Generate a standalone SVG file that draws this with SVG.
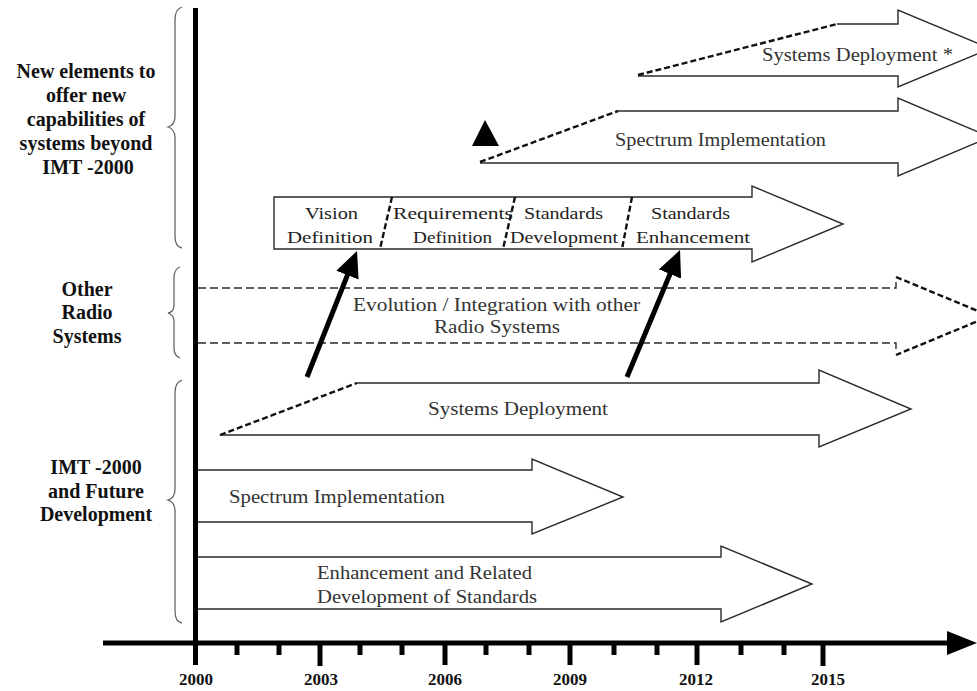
<svg xmlns="http://www.w3.org/2000/svg" width="977" height="691" viewBox="0 0 977 691">
<style>
.lab{font-family:"Liberation Serif","Times New Roman",serif;font-weight:bold;font-size:20px;fill:#111;text-anchor:middle}
.yr{font-family:"Liberation Serif","Times New Roman",serif;font-weight:bold;font-size:17px;fill:#111;text-anchor:middle}
.t{font-family:"Liberation Serif","Times New Roman",serif;font-size:19px;fill:#333}
.ph{font-family:"Liberation Serif","Times New Roman",serif;font-size:16px;fill:#222}
.out{fill:none;stroke:#2a2a2a;stroke-width:1.4}
.sl{fill:none;stroke:#111;stroke-width:2.4;stroke-dasharray:6 3}
.dsh{fill:none;stroke:#2a2a2a;stroke-width:1.4;stroke-dasharray:8 4}
.dshh{fill:none;stroke:#111;stroke-width:2.4;stroke-dasharray:6 3}
.br{fill:none;stroke:#666;stroke-width:1.3}
.tk{stroke:#000;stroke-width:5}
.up{stroke:#000;stroke-width:5;fill:none}
</style>
<defs>
<marker id="ah" markerUnits="userSpaceOnUse" viewBox="0 0 26 24" refX="14" refY="12" markerWidth="26" markerHeight="24" orient="auto">
<path d="M0,0 L26,12 L0,24 Z" fill="#000"/>
</marker>
</defs>
<rect width="977" height="691" fill="#fff"/>

<g id="axes">
<line x1="195.5" y1="8" x2="195.5" y2="665" stroke="#000" stroke-width="5"/>
<line x1="103" y1="643" x2="952" y2="643" stroke="#000" stroke-width="5"/>
<polygon points="947,631 977,643 947,655" fill="#000"/>
<line class="tk" x1="237" y1="645" x2="237" y2="655"/>
<line class="tk" x1="279" y1="645" x2="279" y2="655"/>
<line class="tk" x1="320" y1="645" x2="320" y2="666"/>
<line class="tk" x1="360" y1="645" x2="360" y2="655"/>
<line class="tk" x1="402" y1="645" x2="402" y2="655"/>
<line class="tk" x1="445" y1="645" x2="445" y2="665"/>
<line class="tk" x1="486" y1="645" x2="486" y2="655"/>
<line class="tk" x1="529" y1="645" x2="529" y2="655"/>
<line class="tk" x1="570" y1="645" x2="570" y2="665"/>
<line class="tk" x1="614" y1="645" x2="614" y2="655"/>
<line class="tk" x1="657" y1="645" x2="657" y2="655"/>
<line class="tk" x1="697" y1="645" x2="697" y2="665"/>
<line class="tk" x1="741" y1="645" x2="741" y2="655"/>
<line class="tk" x1="784" y1="645" x2="784" y2="655"/>
<line class="tk" x1="823" y1="645" x2="823" y2="666"/>
<text class="yr" x="196" y="685">2000</text>
<text class="yr" x="321" y="685">2003</text>
<text class="yr" x="445" y="685">2006</text>
<text class="yr" x="570" y="685">2009</text>
<text class="yr" x="696" y="685">2012</text>
<text class="yr" x="828" y="685">2015</text>
</g>

<g id="group-new">
<path class="br" d="M182,7 Q175,9 175,20 L175,116 Q175,125 168,127 Q175,129 175,138 L175,236 Q175,247 182,248"/>
<text class="lab" x="86" y="78">New elements to</text>
<text class="lab" x="86" y="102">offer new</text>
<text class="lab" x="86" y="126">capabilities of</text>
<text class="lab" x="86" y="150">systems beyond</text>
<text class="lab" x="88" y="174">IMT -2000</text>
</g>

<g id="group-other">
<path class="br" d="M180,267 Q174,269 174,278 L174,305 Q174,312 168,313 Q174,315 174,321 L174,348 Q174,356 180,358"/>
<text class="lab" x="87" y="296">Other</text>
<text class="lab" x="87" y="319">Radio</text>
<text class="lab" x="87" y="343">Systems</text>
</g>

<g id="group-imt">
<path class="br" d="M182,380 Q175,382 175,393 L175,489 Q175,498 168,500 Q175,502 175,511 L175,611 Q175,622 182,623"/>
<text class="lab" x="96" y="474">IMT -2000</text>
<text class="lab" x="96" y="498">and Future</text>
<text class="lab" x="96" y="521">Development</text>
</g>

<g id="top-systems-deployment">
<path class="out" d="M837,24 H898 V10 L990,48.5 L898,87 V76 H638"/>
<path class="sl" d="M638,75 L837,24"/>
<text class="t" x="762" y="61" textLength="191" lengthAdjust="spacingAndGlyphs">Systems Deployment *</text>
</g>

<g id="top-spectrum">
<path class="out" d="M618,111 H898 V98 L990,137 L898,176 V163 H480"/>
<path class="sl" d="M480,162 L618,111"/>
<polygon points="485,120 472,146 499,146" fill="#000"/>
<text class="t" x="615" y="146" textLength="211" lengthAdjust="spacingAndGlyphs">Spectrum Implementation</text>
</g>

<g id="phases">
<path class="out" fill="#fff" d="M274,197 H752 V186 L843,224 L752,262 V249 H274 Z"/>
<path class="sl" stroke-width="2" d="M392,197 L380,249"/>
<path class="sl" stroke-width="2" d="M515,197 L503,249"/>
<path class="sl" stroke-width="2" d="M632,197 L622,249"/>
<text class="ph" x="305" y="219" textLength="53" lengthAdjust="spacingAndGlyphs">Vision</text>
<text class="ph" x="287" y="243" textLength="86" lengthAdjust="spacingAndGlyphs">Definition</text>
<text class="ph" x="393" y="219" textLength="120" lengthAdjust="spacingAndGlyphs">Requirements</text>
<text class="ph" x="413" y="243" textLength="79" lengthAdjust="spacingAndGlyphs">Definition</text>
<text class="ph" x="524" y="219" textLength="79" lengthAdjust="spacingAndGlyphs">Standards</text>
<text class="ph" x="510" y="243" textLength="108" lengthAdjust="spacingAndGlyphs">Development</text>
<text class="ph" x="651" y="219" textLength="79" lengthAdjust="spacingAndGlyphs">Standards</text>
<text class="ph" x="636" y="243" textLength="114" lengthAdjust="spacingAndGlyphs">Enhancement</text>
</g>

<g id="evolution">
<path class="dsh" d="M198,288 H896 V281"/>
<path class="dsh" d="M198,343 H896 V352"/>
<path class="dshh" d="M896,277 L990,316 L896,355"/>
<text class="t" x="353" y="311" textLength="287" lengthAdjust="spacingAndGlyphs">Evolution / Integration with other</text>
<text class="t" x="434" y="333" textLength="126" lengthAdjust="spacingAndGlyphs">Radio Systems</text>
</g>

<g id="lower-systems-deployment">
<path class="out" d="M357,383 H819 V370 L911,409 L819,447 V435 H220"/>
<path class="sl" d="M220,435 L357,383"/>
<text class="t" x="428" y="415" textLength="180" lengthAdjust="spacingAndGlyphs">Systems  Deployment</text>
</g>

<g id="lower-spectrum">
<path class="out" d="M198,470 H532 V459 L623,497 L532,534 V522 H198"/>
<text class="t" x="229" y="503" textLength="216" lengthAdjust="spacingAndGlyphs">Spectrum Implementation</text>
</g>

<g id="enhancement">
<path class="out" d="M198,557 H721 V546 L812,584 L721,622 V609 H198"/>
<text class="t" x="317" y="579" textLength="215" lengthAdjust="spacingAndGlyphs">Enhancement and Related</text>
<text class="t" x="317" y="603" textLength="220" lengthAdjust="spacingAndGlyphs">Development of Standards</text>
</g>

<g id="connectors">
<line class="up" x1="307" y1="377" x2="352.6" y2="262.1" marker-end="url(#ah)"/>
<line class="up" x1="627" y1="377" x2="675.4" y2="261.1" marker-end="url(#ah)"/>
</g>
</svg>
